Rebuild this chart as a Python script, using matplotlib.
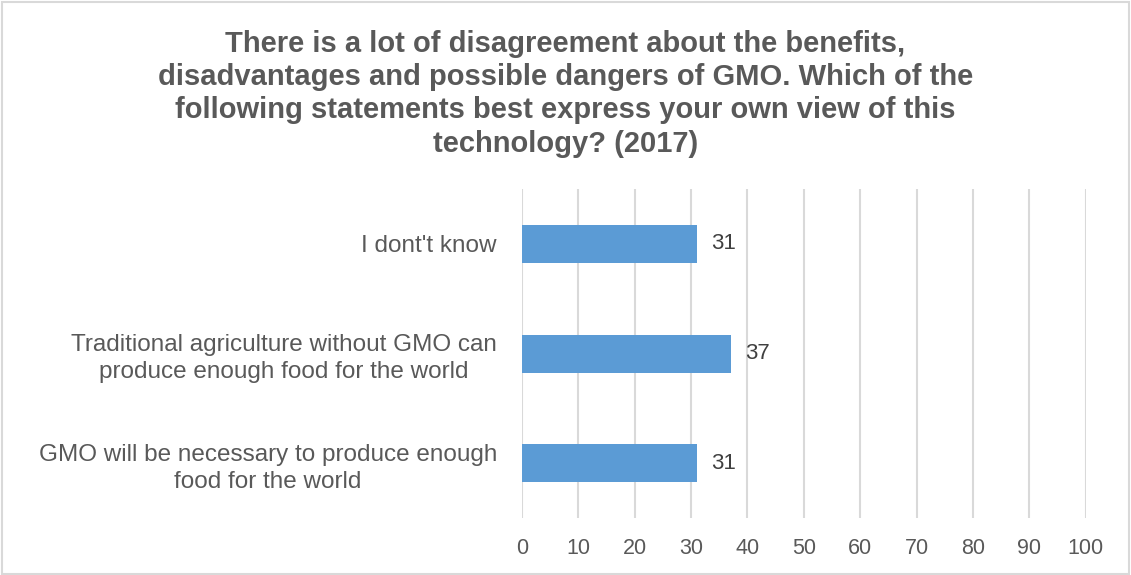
import matplotlib.pyplot as plt

plt.rcParams['font.family'] = ['Liberation Sans', 'DejaVu Sans']

# data
categories = ["GMO will be necessary to produce enough\nfood for the world",
              "Traditional agriculture without GMO can\nproduce enough food for the world",
              "I dont't know"]
values = [31, 37, 31]
ticks = list(range(0, 101, 10))
title = ("There is a lot of disagreement about the benefits,\n"
         "disadvantages and possible dangers of GMO. Which of the\n"
         "following statements best express your own view of this\n"
         "technology? (2017)")

fig = plt.figure(figsize=(11.31, 5.75), dpi=100)
ax = fig.add_axes([0.4615, 0.099, 0.4985, 0.572])

ypos = range(len(categories))
ax.barh(ypos, values, height=0.345, color='#5B9BD5', zorder=3)
for y, v in zip(ypos, values):
    ax.text(v + 2.5, y, str(v), va='center', ha='left', fontsize=16, color='#404040')

ax.set_xlim(0, 100)
ax.set_ylim(-0.5, 2.5)
ax.set_xticks(ticks)
ax.set_yticks(list(ypos))
ax.set_yticklabels(categories, multialignment='center', linespacing=1.3)
ax.tick_params(axis='x', length=0, pad=14, labelsize=15.5, labelcolor='#595959')
ax.tick_params(axis='y', length=0, pad=18, labelsize=17.5, labelcolor='#595959')
ax.grid(axis='x', color='#D9D9D9', linewidth=1.5, zorder=0)
for s in ax.spines.values():
    s.set_visible(False)

fig.text(0.5, 0.948, title, ha='center', va='top', fontsize=21, fontweight='bold',
         color='#595959', linespacing=1.24)

# light border around the chart
fig.patches.append(plt.Rectangle((0.002, 0.002), 0.996, 0.994, transform=fig.transFigure,
                                 fill=False, edgecolor='#D9D9D9', linewidth=1.5))

fig.savefig('out.png', dpi=100)
